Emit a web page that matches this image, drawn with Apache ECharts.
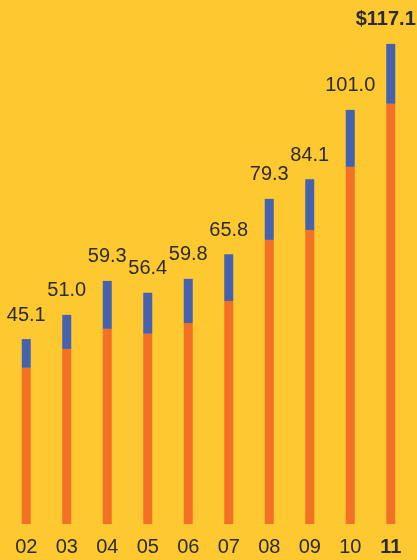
<!DOCTYPE html>
<html><head><meta charset="utf-8">
<script src="https://cdn.jsdelivr.net/npm/echarts@6/dist/echarts.min.js"></script>
<style>html,body{margin:0;padding:0;background:#FEC830;}#c{width:417px;height:560px;}</style>
</head><body><div id="c"></div>
<script>
var categories = ['02','03','04','05','06','07','08','09','10','11'];
var totals = [45.1, 51.0, 59.3, 56.4, 59.8, 65.8, 79.3, 84.1, 101.0, 117.1];
var lower = [38.1, 42.7, 47.6, 46.4, 49.0, 54.4, 69.3, 71.7, 87.1, 102.5];
var totalLabels = ['45.1','51.0','59.3','56.4','59.8','65.8','79.3','84.1','101.0','$117.1'];
var upper = totals.map(function(t,i){ return +(t - lower[i]).toFixed(1); });
var last = categories.length - 1;

var chart = echarts.init(document.getElementById('c'), null, {renderer:'canvas'});
var font = '"Liberation Sans", Arial, sans-serif';
var upperData = upper.map(function(v, i){
  return i === last ? {value: v, label: {offset: [-5, 0]}} : v;
});
chart.setOption({
  backgroundColor: '#FEC830',
  animation: false,
  grid: {left: 6, width: 405, top: 32, bottom: 36, containLabel: false},
  xAxis: {
    type: 'category', data: categories,
    axisLine: {show: false}, axisTick: {show: false},
    axisLabel: {
      interval: 0,
      color: '#2b2b2b', fontFamily: font, fontSize: 20, margin: 13,
      formatter: function(v, i){ return i === last ? '{b|'+v+'}' : v; },
      rich: {b: {fontWeight: 'bold', fontSize: 20, fontFamily: font, color: '#2b2b2b'}}
    }
  },
  yAxis: {type: 'value', min: 0, max: 120, show: false, splitLine: {show: false}},
  series: [
    {type: 'bar', stack: 's', data: lower, barWidth: 9, itemStyle: {color: '#F37027'}},
    {type: 'bar', stack: 's', data: upperData, barWidth: 9, itemStyle: {color: '#4662AF'},
     label: {show: true, position: 'top', distance: 14, color: '#2b2b2b', fontFamily: font, fontSize: 20,
       formatter: function(p){ var i = p.dataIndex; return i === last ? '{b|'+totalLabels[i]+'}' : totalLabels[i]; },
       rich: {b: {fontWeight: 'bold', fontSize: 20, fontFamily: font, color: '#2b2b2b'}}
     }}
  ]
});
</script></body></html>
